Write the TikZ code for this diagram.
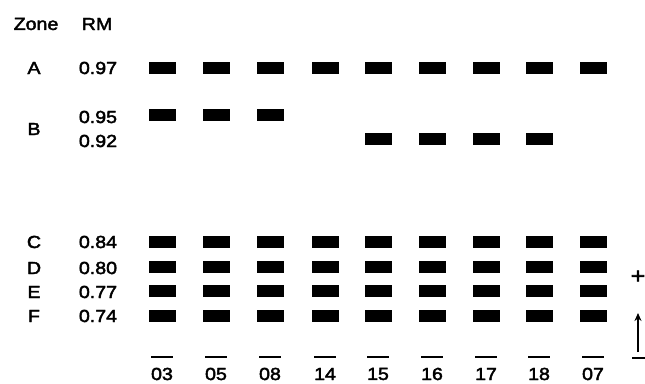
\documentclass[tikz,border=0pt]{standalone}
\usepackage{fontspec}
\newfontfamily\scanfont[FakeStretch=1.12,FakeBold=2.5]{Liberation Sans}
\usetikzlibrary{arrows.meta}
\begin{document}
\begin{tikzpicture}[x=1pt,y=-1pt,
  txt/.style={inner sep=0pt,font=\scanfont\fontsize{17.5}{19}\selectfont},
  band/.style={fill=black,minimum width=27pt,minimum height=12pt,inner sep=0pt,draw=none},
  bar/.style={line width=2pt}]
\useasboundingbox (0,0) rectangle (645,383);
% header
\node[txt] (hz) at (36,24) {Zone};
\node[txt] (hr) at (97,24) {RM};
% zone labels
\node[txt] (zA) at (34,68) {A};
\node[txt] (zB) at (34,129) {B};
\node[txt] (zC) at (34,242) {C};
\node[txt] (zD) at (34,268) {D};
\node[txt] (zE) at (34,292) {E};
\node[txt] (zF) at (34,316) {F};
% RM values
\node[txt] (rA) at (98,68) {0.97};
\node[txt] (rB1) at (98,117) {0.95};
\node[txt] (rB2) at (98,141) {0.92};
\node[txt] (rC) at (98,242) {0.84};
\node[txt] (rD) at (98,268) {0.80};
\node[txt] (rE) at (98,292) {0.77};
\node[txt] (rF) at (98,316) {0.74};
% columns
\foreach \lab/\x [count=\i] in {03/162,05/216,08/270,14/325,15/378,16/432,17/486,18/539,07/593}{
  \node[band] (A\i) at (\x,68) {};
  \node[band] (C\i) at (\x,242) {};
  \node[band] (D\i) at (\x,267) {};
  \node[band] (E\i) at (\x,291) {};
  \node[band] (F\i) at (\x,316) {};
  \node[txt] (L\i) at (\x,374) {\lab};
  \draw[bar] (\x-11,357) -- (\x+11,357);
}
\foreach \x [count=\i] in {162,216,270}{
  \node[band] (Ba\i) at (\x,115) {};
}
\foreach \x [count=\i] in {378,432,486,539}{
  \node[band] (Bb\i) at (\x,139) {};
}
% right side scale
\node[txt,font=\scanfont\fontsize{22}{24}\selectfont] (plus) at (638,277) {+};
\coordinate (abot) at (638,352);
\coordinate (atop) at (638,313);
\draw[line width=2pt,-{Stealth[length=8pt,width=7pt]}] (abot) -- (atop);
\draw[bar] (632,358) -- (645,358);
\end{tikzpicture}
\end{document}
